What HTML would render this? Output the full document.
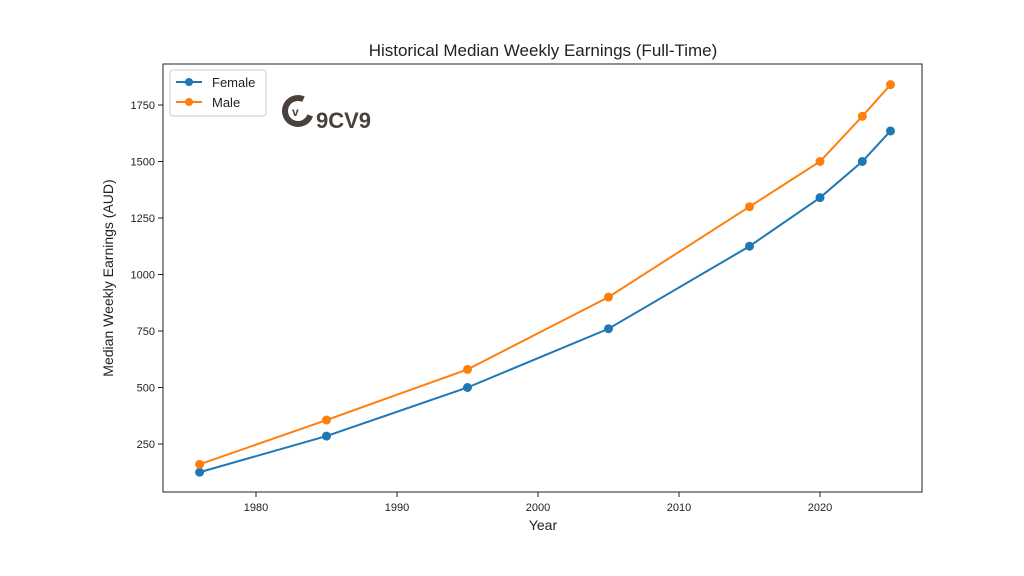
<!DOCTYPE html>
<html><head><meta charset="utf-8"><style>
body{margin:0;background:#fff;}
svg{display:block;font-family:"Liberation Sans","DejaVu Sans",sans-serif;}
</style></head><body>
<svg id="chart" width="1024" height="576">
<rect x="0" y="0" width="1024" height="576" fill="#fff"/>
<text x="543" y="56" font-size="17" text-anchor="middle" fill="#222">Historical Median Weekly Earnings (Full-Time)</text>
<text x="543" y="530" font-size="14" text-anchor="middle" fill="#222">Year</text>
<text transform="translate(113,278) rotate(-90)" font-size="14" text-anchor="middle" fill="#222">Median Weekly Earnings (AUD)</text>
<g id="ticks"></g>
<g id="series"></g>
<g>
<circle cx="298" cy="111" r="13" fill="none" stroke="#4a403c" stroke-width="6" stroke-dasharray="62 20" transform="rotate(20 298 111)"/>
<text x="292" y="116" font-size="12" font-weight="bold" fill="#4a403c">v</text>
<text x="316" y="128" font-size="22" font-weight="bold" fill="#4a403c">9CV9</text>
</g>
<rect x="163" y="64" width="759" height="428" fill="none" stroke="#222" stroke-width="1"/>
<g>
<rect x="170" y="70" width="96" height="46" fill="#fff" stroke="#ccc" rx="3"/>
<g>
<line x1="176" y1="82" x2="202" y2="82" stroke="#1f77b4" stroke-width="2"/><circle cx="189" cy="82" r="4" fill="#1f77b4"/>
<text x="212" y="87" font-size="13" fill="#222">Female</text></g>
<g>
<line x1="176" y1="102" x2="202" y2="102" stroke="#ff7f0e" stroke-width="2"/><circle cx="189" cy="102" r="4" fill="#ff7f0e"/>
<text x="212" y="107" font-size="13" fill="#222">Male</text></g>
</g>
</svg>
<script>
const years=[1976,1985,1995,2005,2015,2020,2023,2025];
const female=[125,285,500,760,1125,1340,1500,1635];
const male=[160,356,580,900,1300,1500,1700,1840];
const xTicks=[1980,1990,2000,2010,2020];
const yTicks=[250,500,750,1000,1250,1500,1750];
const NS="http://www.w3.org/2000/svg";
function xs(v){return 256+(v-1980)*14.1;}
function ys(v){return 444-(v-250)*0.226;}
const tg=document.getElementById('ticks');
function mk(t,a,p){const e=document.createElementNS(NS,t);for(const k in a)e.setAttribute(k,a[k]);p.appendChild(e);return e;}
xTicks.forEach(t=>{
 const l=mk('line',{x1:xs(t),x2:xs(t),y1:492,y2:497,stroke:'#222'},tg);
 
 
 const tx=mk('text',{x:xs(t),y:511,'font-size':11,'text-anchor':'middle',fill:'#222'},tg);tx.textContent=t;
 
 
});
yTicks.forEach(t=>{
 const l=mk('line',{x1:158,x2:163,y1:ys(t),y2:ys(t),stroke:'#222'},tg);
 
 
 const tx=mk('text',{x:155,y:ys(t)+4,'font-size':11,'text-anchor':'end',fill:'#222'},tg);tx.textContent=t;
 
 
});
const sg=document.getElementById('series');
[[female,'#1f77b4','female'],[male,'#ff7f0e','male']].forEach(([d,c,n])=>{
 const pl=mk('polyline',{points:d.map((v,i)=>xs(years[i])+','+ys(v)).join(' '),fill:'none',stroke:c,'stroke-width':2},sg);
 
 
 d.forEach((v,i)=>{
  const p=mk('circle',{cx:xs(years[i]),cy:ys(v),r:4.5,fill:c},sg);
  
  
 });
});
</script>
</body></html>
